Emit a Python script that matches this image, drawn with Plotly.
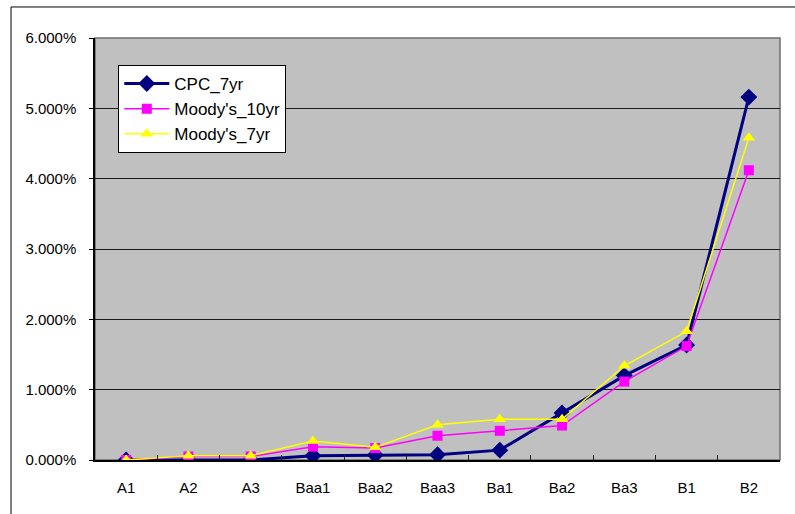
import plotly.graph_objects as go

# Rating grades on the x axis
grades = ["A1", "A2", "A3", "Baa1", "Baa2", "Baa3", "Ba1", "Ba2", "Ba3", "B1", "B2"]

# Cumulative default rates (fractions)
cpc_7yr = [0.0000, 0.0000, 0.0000, 0.0006, 0.0007, 0.00075, 0.0014, 0.0067, 0.0120, 0.01635, 0.0516]
moodys_10yr = [0.0000, 0.0005, 0.0005, 0.0019, 0.0017, 0.00345, 0.00415, 0.0049, 0.01115, 0.0162, 0.0412]
moodys_7yr = [0.0000, 0.0006, 0.0006, 0.0027, 0.0018, 0.0050, 0.0058, 0.0058, 0.0134, 0.0183, 0.0458]

y_ticks = [0, 0.01, 0.02, 0.03, 0.04, 0.05, 0.06]

FONT = "Liberation Sans, Arial, sans-serif"

fig = go.Figure()
fig.add_trace(go.Scatter(
    x=grades, y=cpc_7yr, name="CPC_7yr", mode="lines+markers",
    line=dict(color="#000080", width=3),
    marker=dict(symbol="diamond", size=13, color="#000080"),
))
fig.add_trace(go.Scatter(
    x=grades, y=moodys_10yr, name="Moody's_10yr", mode="lines+markers",
    line=dict(color="#FF00FF", width=1.5),
    marker=dict(symbol="square", size=10, color="#FF00FF"),
))
fig.add_trace(go.Scatter(
    x=grades, y=moodys_7yr, name="Moody's_7yr", mode="lines+markers",
    line=dict(color="#FFFF00", width=1.5),
    marker=dict(symbol="triangle-up", size=11, color="#FFFF00"),
))

fig.update_layout(
    width=795, height=514,
    margin=dict(l=95, r=15, t=38, b=54),
    paper_bgcolor="white",
    plot_bgcolor="#C0C0C0",
    font=dict(family=FONT, size=15, color="black"),
    showlegend=True,
    legend=dict(
        x=0.034, y=0.936, xanchor="left", yanchor="top",
        bgcolor="white", bordercolor="black", borderwidth=1,
        font=dict(family=FONT, size=17, color="black"),
        tracegroupgap=0, itemwidth=45,
    ),
    xaxis=dict(
        type="category", range=[-0.5, 10.5],
        showgrid=False, showline=True, linecolor="black", linewidth=1.5,
        ticks="inside", tickson="boundaries", ticklen=5, tickcolor="#222",
        tickfont=dict(family=FONT, size=15), ticklabelstandoff=13,
        zeroline=False,
    ),
    yaxis=dict(
        range=[0, 0.06], tickvals=y_ticks, tickformat=".3%",
        showgrid=True, gridcolor="#1a1a1a", gridwidth=1,
        showline=True, linecolor="black", linewidth=1.5,
        ticks="outside", ticklen=4, tickcolor="black",
        tickfont=dict(family=FONT, size=15), ticklabelstandoff=10,
        zeroline=False,
    ),
    shapes=[
        # plot area frame (top and right edges)
        dict(type="rect", xref="paper", yref="paper", x0=0, y0=0, x1=1, y1=1,
             line=dict(color="#6e6e6e", width=1.5), layer="below"),
        # outer chart border
        dict(type="rect", xref="paper", yref="paper",
             x0=-0.1226, y0=-0.3, x1=1.2, y1=1.0735,
             line=dict(color="black", width=1)),
    ],
)

fig.write_html("out.html")
